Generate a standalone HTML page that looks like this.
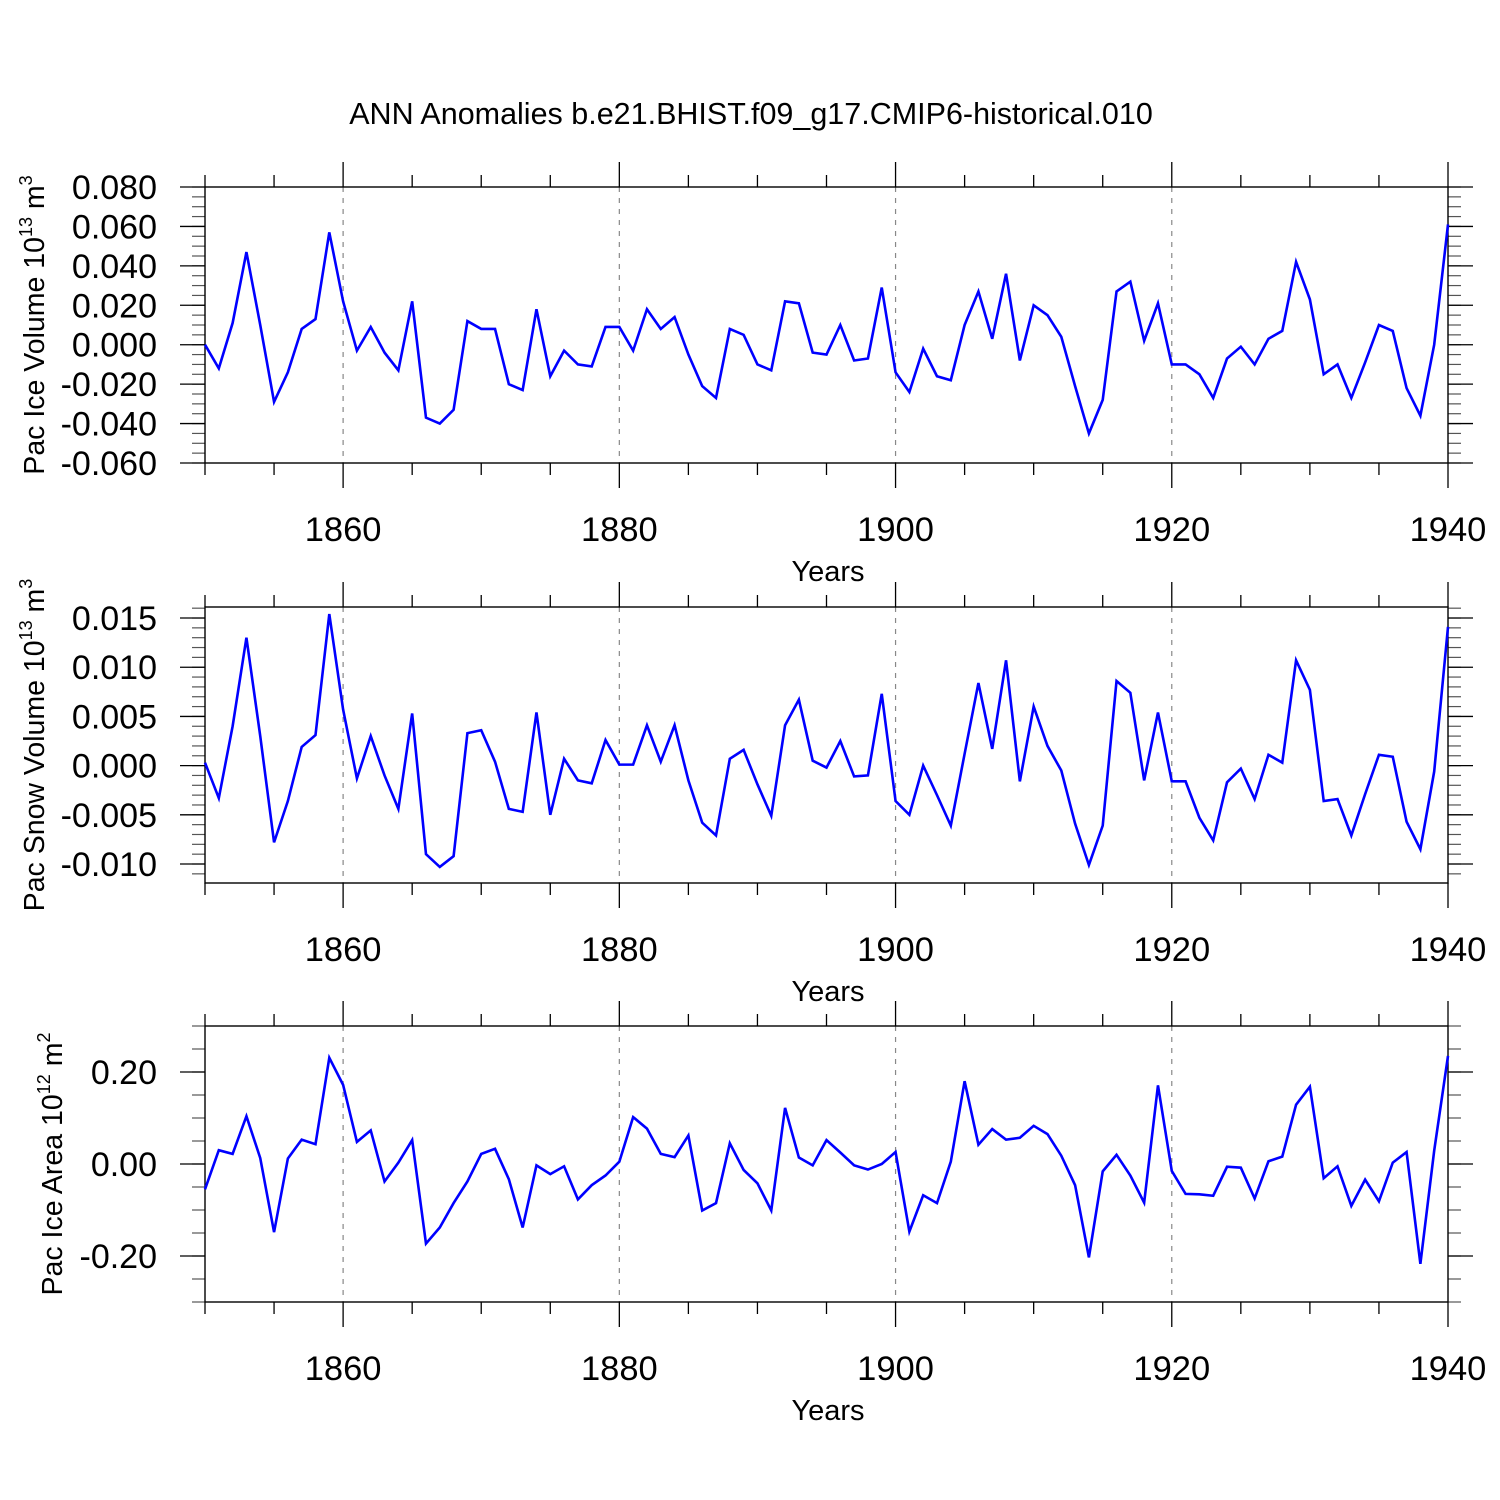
<!DOCTYPE html>
<html><head><meta charset="utf-8"><style>body{margin:0;background:#fff}svg{display:block}</style></head>
<body>
<svg id="chart" width="1500" height="1500" xmlns="http://www.w3.org/2000/svg" font-family="Liberation Sans, sans-serif">
<text x="751" y="124" text-anchor="middle" font-size="30.5">ANN Anomalies b.e21.BHIST.f09_g17.CMIP6-historical.010</text>
</svg>
<script>
const years = [];
for (let y = 1850; y <= 1940; y++) years.push(y);
const iceVolume = [0.000,-0.012,0.011,0.047,0.010,-0.029,-0.014,0.008,0.013,0.057,0.022,-0.003,0.009,-0.004,-0.013,0.022,-0.037,-0.040,-0.033,0.012,0.008,0.008,-0.020,-0.023,0.018,-0.016,-0.003,-0.010,-0.011,0.009,0.009,-0.003,0.018,0.008,0.014,-0.005,-0.021,-0.027,0.008,0.005,-0.010,-0.013,0.022,0.021,-0.004,-0.005,0.010,-0.008,-0.007,0.029,-0.014,-0.024,-0.002,-0.016,-0.018,0.010,0.027,0.003,0.036,-0.008,0.020,0.015,0.004,-0.021,-0.045,-0.028,0.027,0.032,0.002,0.021,-0.010,-0.010,-0.015,-0.027,-0.007,-0.001,-0.010,0.003,0.007,0.042,0.023,-0.015,-0.010,-0.027,-0.009,0.010,0.007,-0.022,-0.036,0.000,0.061];
const snowVolume = [0.0003,-0.0033,0.004,0.013,0.003,-0.0078,-0.0036,0.0019,0.0031,0.0154,0.0057,-0.0013,0.003,-0.001,-0.0044,0.0053,-0.009,-0.0103,-0.0092,0.0033,0.0036,0.0004,-0.0044,-0.0047,0.0054,-0.005,0.0007,-0.0015,-0.0018,0.0026,0.0001,0.0001,0.0041,0.0004,0.0041,-0.0015,-0.0058,-0.0071,0.0007,0.0016,-0.0019,-0.0051,0.0041,0.0067,0.0005,-0.0002,0.0025,-0.0011,-0.001,0.0073,-0.0036,-0.005,0.0000,-0.003,-0.0061,0.0012,0.0084,0.0017,0.0107,-0.0016,0.006,0.002,-0.0005,-0.0059,-0.0101,-0.0061,0.0086,0.0074,-0.0015,0.0054,-0.0016,-0.0016,-0.0053,-0.0076,-0.0017,-0.0003,-0.0034,0.0011,0.0003,0.0107,0.0077,-0.0036,-0.0034,-0.0071,-0.0029,0.0011,0.0009,-0.0057,-0.0085,-0.0006,0.0141];
const iceArea = [-0.055,0.03,0.022,0.104,0.013,-0.148,0.012,0.053,0.043,0.231,0.172,0.048,0.073,-0.038,0.003,0.052,-0.173,-0.138,-0.085,-0.038,0.022,0.033,-0.033,-0.138,-0.003,-0.022,-0.005,-0.077,-0.046,-0.025,0.005,0.102,0.077,0.022,0.015,0.062,-0.101,-0.085,0.045,-0.013,-0.042,-0.101,0.122,0.014,-0.003,0.052,0.025,-0.003,-0.012,0.000,0.026,-0.147,-0.068,-0.085,0.005,0.180,0.042,0.076,0.053,0.057,0.083,0.065,0.018,-0.046,-0.203,-0.016,0.020,-0.025,-0.084,0.171,-0.015,-0.065,-0.066,-0.069,-0.006,-0.008,-0.075,0.006,0.016,0.129,0.168,-0.031,-0.005,-0.091,-0.034,-0.081,0.003,0.026,-0.217,0.029,0.235];
const xTickLabels = [1860,1880,1900,1920,1940];
const iceVolTicks = ["0.080","0.060","0.040","0.020","0.000","-0.020","-0.040","-0.060"];
const snowTicks = ["0.015","0.010","0.005","0.000","-0.005","-0.010"];
const areaTicks = ["0.20","0.00","-0.20"];

const svg = document.getElementById('chart');
const NS = 'http://www.w3.org/2000/svg';
const L = 205, R = 1448;
function X(yr){ return L + (yr-1850)*(R-L)/90; }
function mk(tag, attrs, parent){ const e=document.createElementNS(NS,tag); for(const k in attrs) e.setAttribute(k,attrs[k]); (parent||svg).appendChild(e); return e; }

const panels = [
 {name:'ice-volume', top:187, bot:463, vmin:-0.06, vmax:0.08, data:iceVolume, ticks:iceVolTicks, minor:0.005, label:'Pac Ice Volume 10', exp:'13', unit:' m', uexp:'3', lx:44},
 {name:'snow-volume', top:607, bot:883, vmin:-0.01193, vmax:0.01612, data:snowVolume, ticks:snowTicks, minor:0.001, label:'Pac Snow Volume 10', exp:'13', unit:' m', uexp:'3', lx:44},
 {name:'ice-area', top:1026, bot:1302, vmin:-0.30, vmax:0.30, data:iceArea, ticks:areaTicks, minor:0.05, label:'Pac Ice Area 10', exp:'12', unit:' m', uexp:'2', lx:62}
];

panels.forEach(p=>{
  const g = mk('g',{});
  
  
  const Y = v => p.bot - (v-p.vmin)*(p.bot-p.top)/(p.vmax-p.vmin);
  xTickLabels.slice(0,4).forEach(yr=>{
    const gl = mk('line',{x1:X(yr),x2:X(yr),y1:p.top,y2:p.bot,stroke:'#888','stroke-width':1.2,'stroke-dasharray':'5,6'},g);
    
    
  });
  for(let yr=1850; yr<=1940; yr+=5){
    const major = xTickLabels.includes(yr);
    const len = major?25:12;
    mk('line',{x1:X(yr),x2:X(yr),y1:p.bot,y2:p.bot+len,stroke:'#000','stroke-width':1.3},g);
    mk('line',{x1:X(yr),x2:X(yr),y1:p.top,y2:p.top-len,stroke:'#000','stroke-width':1.3},g);
  }
  const start = Math.ceil(p.vmin/p.minor-1e-6)*p.minor;
  for(let v=start; v<=p.vmax+1e-9; v+=p.minor){
    const y=Y(v);
    mk('line',{x1:L-13,x2:L,y1:y,y2:y,stroke:'#555','stroke-width':1.2},g);
    mk('line',{x1:R,x2:R+13,y1:y,y2:y,stroke:'#555','stroke-width':1.2},g);
  }
  p.ticks.forEach(t=>{
    const y=Y(parseFloat(t));
    mk('line',{x1:L-25,x2:L,y1:y,y2:y,stroke:'#000','stroke-width':1.3},g);
    mk('line',{x1:R,x2:R+25,y1:y,y2:y,stroke:'#000','stroke-width':1.3},g);
    const tx = mk('text',{x:157,y:y+12,'text-anchor':'end','font-size':34},g);
    tx.textContent=t;
    
    
  });
  mk('rect',{x:L,y:p.top,width:R-L,height:p.bot-p.top,fill:'none',stroke:'#000','stroke-width':1.4},g);
  xTickLabels.forEach(yr=>{
    const tx=mk('text',{x:X(yr),y:p.bot+78,'text-anchor':'middle','font-size':34.5},g);
    tx.textContent=yr;
    
    
  });
  const xt=mk('text',{x:828,y:p.bot+118,'text-anchor':'middle','font-size':29},g);
  xt.textContent='Years';
  
  
  const cy=(p.top+p.bot)/2;
  const yt=mk('text',{x:p.lx,y:cy,'text-anchor':'middle','font-size':28.5,transform:`rotate(-90 ${p.lx} ${cy})`},g);
  
  
  yt.innerHTML = p.label+'<tspan dy="-12" font-size="18">'+p.exp+'</tspan><tspan dy="12">'+p.unit+'</tspan><tspan dy="-12" font-size="18">'+p.uexp+'</tspan>';
  const pts = p.data.map((v,i)=>X(years[i]).toFixed(2)+','+Y(v).toFixed(2)).join(' ');
  const pl=mk('polyline',{points:pts,fill:'none',stroke:'#0000ff','stroke-width':2.6,'stroke-linejoin':'miter'},g);
  
  
});
</script>
</body></html>
